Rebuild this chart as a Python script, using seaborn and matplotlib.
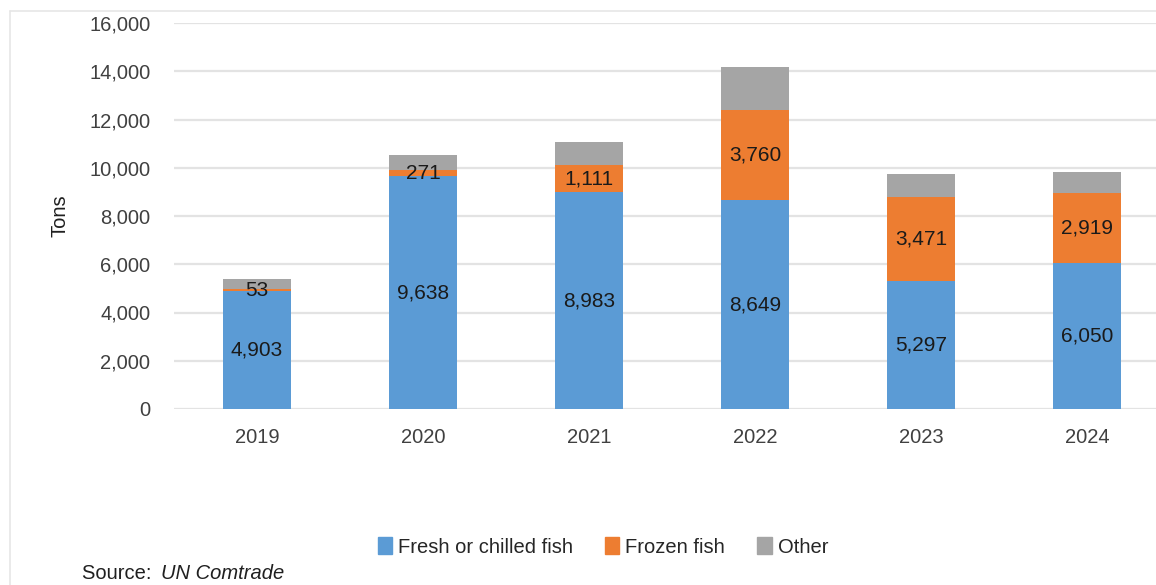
import matplotlib
matplotlib.use("Agg")
import matplotlib.pyplot as plt
import matplotlib.patches as mpatches
import seaborn as sns
import pandas as pd
import numpy as np

years = ["2019", "2020", "2021", "2022", "2023", "2024"]
fresh = [4903, 9638, 8983, 8649, 5297, 6050]
frozen = [53, 271, 1111, 3760, 3471, 2919]
other = [434, 619, 973, 1767, 973, 855]

series_names = ["Fresh or chilled fish", "Frozen fish", "Other"]
colors = ["#5B9BD5", "#ED7D31", "#A5A5A5"]

sns.set_theme(style="white")
plt.rcParams["font.family"] = ["Liberation Sans", "DejaVu Sans"]

W, H = 1156, 585
fig = plt.figure(figsize=(W / 100, H / 100), dpi=100)
ax_left, ax_right, ax_bottom, ax_top = 174, 1156, 409, 23
ax = fig.add_axes([ax_left / W, 1 - ax_bottom / H, (ax_right - ax_left) / W, (ax_bottom - ax_top) / H])

df = pd.DataFrame({"year": years, "fresh": fresh, "frozen": frozen, "other": other})
df["cum1"] = df["fresh"]
df["cum2"] = df["fresh"] + df["frozen"]
df["cum3"] = df["cum2"] + df["other"]

bw = 0.41
for col, c in zip(["cum3", "cum2", "cum1"], colors[::-1]):
    sns.barplot(data=df, x="year", y=col, order=years, color=c, saturation=1,
                width=bw, ax=ax, errorbar=None, zorder=3, linewidth=0)

# labels
for i in range(len(years)):
    ax.text(i, fresh[i] / 2, f"{fresh[i]:,}", ha="center", va="center",
            fontsize=15, color="#1a1a1a", zorder=5)
    ax.text(i, fresh[i] + frozen[i] / 2, f"{frozen[i]:,}", ha="center", va="center",
            fontsize=15, color="#1a1a1a", zorder=5)

ax.set_ylim(0, 16000)
ax.set_yticks(np.arange(0, 16001, 2000))
ax.set_yticklabels([f"{v:,}" for v in range(0, 16001, 2000)], fontsize=14.5, color="#404040")
ax.set_xlim(-0.5, -0.5 + (ax_right - ax_left) / 166)
ax.set_xticks(range(len(years)))
ax.set_xticklabels(years, fontsize=14.5, color="#404040")
ax.tick_params(axis="y", length=0, pad=17)
ax.tick_params(axis="x", length=0, pad=14)
ax.set_xlabel("")
ax.set_ylabel("Tons", fontsize=14.5, color="#202020", labelpad=14)
ax.yaxis.grid(True, color="#e3e3e3", linewidth=1.6, zorder=0)
ax.set_axisbelow(True)
for s in ax.spines.values():
    s.set_visible(False)

handles = [mpatches.Patch(color=c, label=n) for c, n in zip(colors, series_names)]
fig.legend(handles=handles, loc="center", bbox_to_anchor=(603 / W, 1 - 547 / H),
           ncol=3, frameon=False, fontsize=14.5, handlelength=0.7, handleheight=0.9,
           handletextpad=0.3, columnspacing=1.6)

# frame lines of the original chart box
fig.add_artist(plt.Line2D([10 / W, 10 / W], [0, 1 - 11 / H], color="#e6e6e6", lw=1.2))
fig.add_artist(plt.Line2D([10 / W, 1], [1 - 11 / H, 1 - 11 / H], color="#e6e6e6", lw=1.2))

t1 = fig.text(82 / W, 1 - 564 / H, "Source: ", fontsize=14.5, va="top", ha="left", color="#202020")
fig.canvas.draw()
fig.text(0, 0, "")
ax.annotate("UN Comtrade", xy=(1, 0), xycoords=t1, xytext=(3, 0), textcoords="offset points",
            fontsize=14.5, va="bottom", ha="left", style="italic", color="#202020",
            annotation_clip=False)

fig.savefig("out.png", dpi=100)
